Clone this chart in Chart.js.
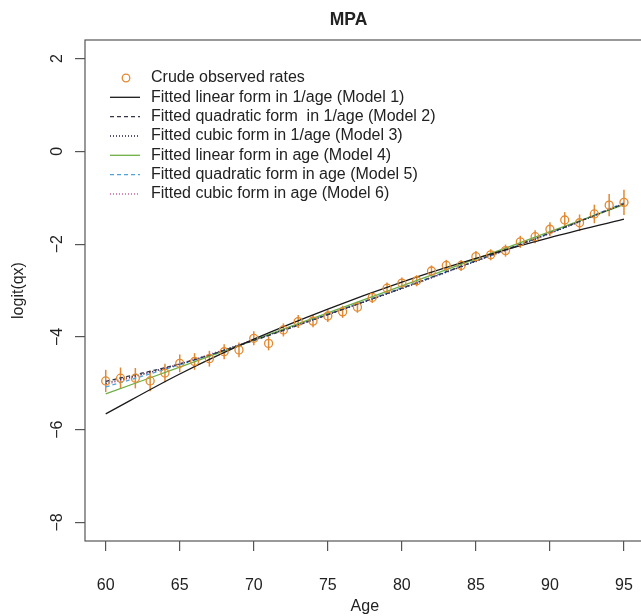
<!DOCTYPE html>
<html>
<head>
<meta charset="utf-8">
<title>MPA</title>
<script src="https://cdn.jsdelivr.net/npm/chart.js@4.4.0/dist/chart.umd.min.js"></script>
<style>
html,body{margin:0;padding:0;background:#fff;overflow:hidden}
#wrap{position:absolute;left:0;top:0;width:650px;height:616px}
</style>
</head>
<body>
<div id="wrap"><canvas id="chart" width="650" height="616"></canvas></div>
<script>
// observed crude rates (logit scale) with half-width of the error bars
const ages = [60,61,62,63,64,65,66,67,68,69,70,71,72,73,74,75,76,77,78,79,80,81,82,83,84,85,86,87,88,89,90,91,92,93,94,95];
const crude = [-4.95,-4.89,-4.89,-4.95,-4.78,-4.57,-4.53,-4.47,-4.32,-4.28,-4.03,-4.14,-3.85,-3.67,-3.66,-3.55,-3.46,-3.36,-3.15,-2.95,-2.84,-2.79,-2.58,-2.46,-2.46,-2.27,-2.23,-2.14,-1.95,-1.84,-1.68,-1.48,-1.54,-1.35,-1.16,-1.10];
const errHalf = [0.24,0.23,0.22,0.22,0.20,0.19,0.18,0.17,0.16,0.16,0.15,0.15,0.14,0.14,0.13,0.13,0.13,0.12,0.12,0.12,0.12,0.12,0.12,0.12,0.12,0.12,0.12,0.13,0.13,0.14,0.15,0.17,0.18,0.20,0.24,0.27];

// fitted curves, read every 5 years
const fitAges = [60,65,70,75,80,85,90,95];
const model1 = [-5.66,-4.80,-4.05,-3.40,-2.82,-2.31,-1.86,-1.46];
const model2 = [-4.96,-4.58,-4.08,-3.52,-2.95,-2.36,-1.76,-1.13];
const model3 = [-5.00,-4.59,-4.07,-3.52,-2.96,-2.37,-1.77,-1.13];
const model4 = [-5.23,-4.65,-4.07,-3.48,-2.90,-2.32,-1.73,-1.15];
const model5 = [-5.08,-4.60,-4.07,-3.51,-2.94,-2.36,-1.76,-1.11];
const model6 = [-5.03,-4.58,-4.06,-3.52,-2.95,-2.37,-1.77,-1.12];

const xTicks = [60,65,70,75,80,85,90,95];
const yTicks = [-8,-6,-4,-2,0,2];
const legendLabels = [
  "Crude observed rates",
  "Fitted linear form in 1/age (Model 1)",
  "Fitted quadratic form  in 1/age (Model 2)",
  "Fitted cubic form in 1/age (Model 3)",
  "Fitted linear form in age (Model 4)",
  "Fitted quadratic form in age (Model 5)",
  "Fitted cubic form in age (Model 6)"
];

const FONT = '"Liberation Sans", Arial, Helvetica, sans-serif';
const ORANGE = "#E3892F";
const TXT = "#222";

const lineStyles = [
  { data: model1, color: "#1a1a1a", dash: [] },
  { data: model2, color: "#33364a", dash: [4,3] },
  { data: model3, color: "#1c1f4d", dash: [1,2] },
  { data: model4, color: "#6DAF45", dash: [] },
  { data: model5, color: "#4FA3D6", dash: [4,3] },
  { data: model6, color: "#C462A4", dash: [1,2] }
];

const lineSets = lineStyles.map((m,i) => ({
  type: "line",
  label: legendLabels[i+1],
  data: fitAges.map((a,j) => ({x:a, y:m.data[j]})),
  borderColor: m.color,
  borderWidth: 1.3,
  borderDash: m.dash,
  pointRadius: 0,
  fill: false,
  cubicInterpolationMode: "monotone"
}));

const pointSet = {
  type: "scatter",
  label: legendLabels[0],
  data: ages.map((a,i) => ({x:a, y:crude[i]})),
  borderColor: ORANGE,
  backgroundColor: "rgba(0,0,0,0)",
  borderWidth: 1.3,
  pointRadius: 4,
  pointStyle: "circle"
};

// error bars, box, rotated y labels, title, legend
const extras = {
  id: "extras",
  beforeDatasetsDraw(chart) {
    const {ctx, scales:{x, y}} = chart;
    ctx.save();
    ctx.strokeStyle = ORANGE;
    ctx.lineWidth = 1.5;
    ages.forEach((a,i) => {
      const px = x.getPixelForValue(a);
      ctx.beginPath();
      ctx.moveTo(px, y.getPixelForValue(crude[i]-errHalf[i]));
      ctx.lineTo(px, y.getPixelForValue(crude[i]+errHalf[i]));
      ctx.stroke();
    });
    ctx.restore();
  },
  afterDraw(chart) {
    const {ctx, chartArea:ca, scales:{y}} = chart;
    ctx.save();
    ctx.strokeStyle = "#555";
    ctx.lineWidth = 1.2;
    ctx.strokeRect(ca.left, ca.top, ca.right-ca.left, ca.bottom-ca.top);

    // y tick labels, rotated like R (las = 0)
    ctx.fillStyle = TXT;
    ctx.font = "16px " + FONT;
    ctx.textAlign = "center";
    ctx.textBaseline = "middle";
    yTicks.forEach(v => {
      ctx.save();
      ctx.translate(58, y.getPixelForValue(v));
      ctx.rotate(-Math.PI/2);
      ctx.fillText(String(v).replace("-", "\u2212"), 0, 0);
      ctx.restore();
    });

    // title
    ctx.font = "bold 17.5px " + FONT;
    ctx.fillText("MPA", 348.5, 20);

    // legend (no box)
    const rowY = [78, 97.3, 116.7, 136, 155.3, 174.7, 194];
    ctx.font = "16px " + FONT;
    ctx.textAlign = "left";
    legendLabels.forEach((lab,i) => {
      const yy = rowY[i];
      if (i === 0) {
        ctx.strokeStyle = ORANGE;
        ctx.lineWidth = 1.3;
        ctx.setLineDash([]);
        ctx.beginPath();
        ctx.arc(126, yy, 3.8, 0, Math.PI*2);
        ctx.stroke();
      } else {
        const st = lineStyles[i-1];
        ctx.strokeStyle = st.color;
        ctx.lineWidth = 1.3;
        ctx.setLineDash(st.dash);
        ctx.beginPath();
        ctx.moveTo(110, yy);
        ctx.lineTo(140, yy);
        ctx.stroke();
      }
      ctx.setLineDash([]);
      ctx.fillStyle = TXT;
      ctx.fillText(lab, 151, yy);
    });
    ctx.restore();
  }
};

new Chart(document.getElementById("chart"), {
  data: { datasets: [pointSet, ...lineSets] },
  options: {
    responsive: false,
    devicePixelRatio: 1,
    animation: false,
    layout: { padding: { left: 0, top: 40, right: 5, bottom: 0 } },
    plugins: { legend: { display: false }, tooltip: { enabled: false }, title: { display: false } },
    scales: {
      x: {
        type: "linear",
        min: 58.6, max: 96.4,
        afterFit: s => { s.height = 75; s.paddingLeft = 0; s.paddingRight = 0; },
        afterBuildTicks: s => { s.ticks = xTicks.map(v => ({value: v})); },
        grid: { drawOnChartArea: false, drawTicks: true, tickLength: 10, color: "#555", lineWidth: 1.2 },
        border: { display: false },
        ticks: { color: TXT, font: { family: FONT, size: 16 }, padding: 25, maxRotation: 0, autoSkip: false },
        title: { display: true, text: "Age", color: TXT, font: { family: FONT, size: 16 }, padding: { top: 0, bottom: 0 } }
      },
      y: {
        type: "linear",
        min: -8.4, max: 2.4,
        afterFit: s => { s.width = 85; s.paddingTop = 0; s.paddingBottom = 0; },
        afterBuildTicks: s => { s.ticks = yTicks.map(v => ({value: v})); },
        grid: { drawOnChartArea: false, drawTicks: true, tickLength: 10, color: "#555", lineWidth: 1.2 },
        border: { display: false },
        ticks: { display: false },
        title: { display: true, text: "logit(qx)", color: TXT, font: { family: FONT, size: 16 }, padding: { top: 9, bottom: 0 } }
      }
    }
  },
  plugins: [extras]
});
</script>
</body>
</html>
